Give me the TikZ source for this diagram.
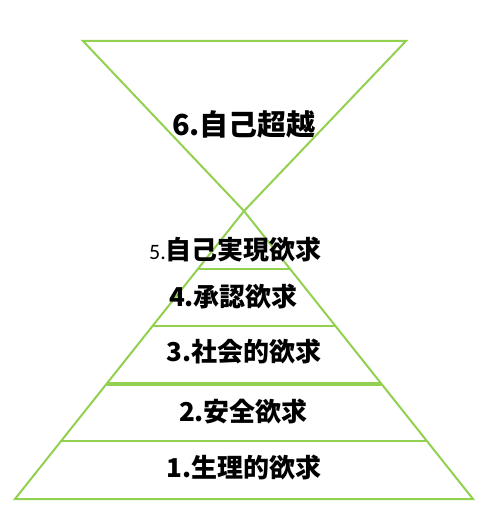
\documentclass[tikz,border=0pt]{standalone}
\usepackage{fontspec}
\newfontfamily\jpfont{Noto Sans CJK JP}
\newfontfamily\numfont{Carlito}
\usepackage{tikz}
\usetikzlibrary{calc}
\definecolor{leafgreen}{HTML}{92D050}

\begin{document}
\begin{tikzpicture}[x=1pt,y=-1pt,
    edge/.style={draw=leafgreen, line width=2pt},
    level/.style={font=\jpfont\bfseries\fontsize{26}{30}\selectfont, inner sep=0pt}]
    \useasboundingbox (0,0) rectangle (492,518);

    % Inverted triangle (transcendence)
    \coordinate (apex) at (244,211);
    \draw[edge, line join=miter] (83,41) -- (406,41) -- (apex) -- cycle;

    % Pyramid
    \coordinate (bl) at (15,499);
    \coordinate (br) at (473,499);
    \draw[edge] (bl) -- (br) -- (apex) -- cycle;
    \foreach \t in {0.2,0.4,0.8} {
        \draw[edge] ($(apex)!\t!(bl)$) -- ($(apex)!\t!(br)$);
    }
    \draw[edge, line width=3.5pt] ($(apex)!0.6!(bl)$) -- ($(apex)!0.6!(br)$);

    % Labels
    \node[level, font=\jpfont\bfseries\fontsize{29}{33}\selectfont] (transcend) at (244,124) {6.自己超越};
    \node[level] (actual) at (235.5,250) {{\numfont\mdseries\fontsize{22}{26}\selectfont 5.}自己実現欲求};
    \node[level] (esteem) at (233.5,297) {4.承認欲求};
    \node[level] (social) at (244,352) {3.社会的欲求};
    \node[level] (safety) at (243.5,412) {2.安全欲求};
    \node[level] (physio) at (244,468) {1.生理的欲求};
\end{tikzpicture}
\end{document}
